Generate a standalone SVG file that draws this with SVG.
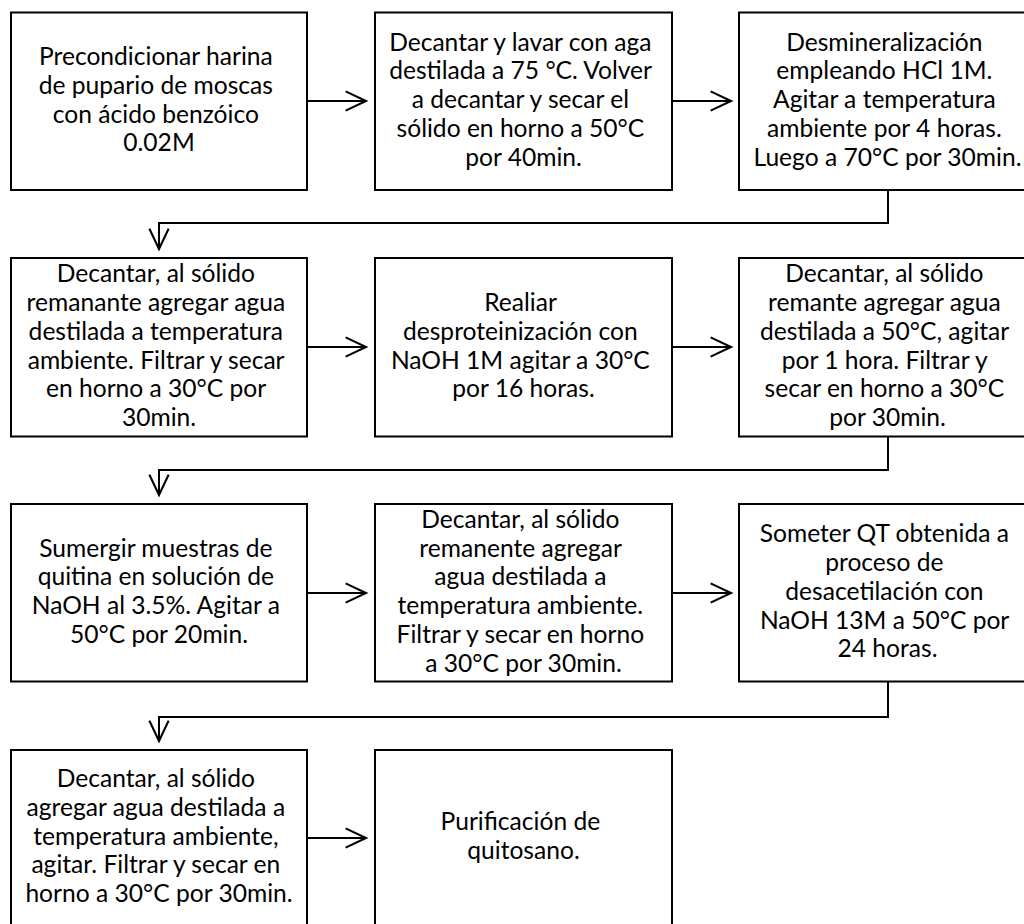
<svg xmlns="http://www.w3.org/2000/svg" width="1024" height="924" viewBox="0 0 1024 924">
  <style>
    .box { fill: #ffffff; stroke: #000000; stroke-width: 2; }
    .lbl { font-family: Lato, "Open Sans", "Liberation Sans", sans-serif; font-size: 24.6px; fill: #000000; text-anchor: middle; }
    .wire { fill: none; stroke: #000000; stroke-width: 2; }
  </style>
  <defs>
    <marker id="vhead" markerUnits="userSpaceOnUse" markerWidth="30" markerHeight="30" viewBox="-24 -12 28 24" refX="0" refY="0" orient="auto">
      <path d="M-19,-9 L0,0 L-19,9" fill="none" stroke="#000000" stroke-width="2"/>
    </marker>
  </defs>
  <rect width="1024" height="924" fill="#ffffff"/>

  <!-- connectors -->
  <g id="connectors">
    <path class="wire" marker-end="url(#vhead)" d="M307,101 H366"/>
    <path class="wire" marker-end="url(#vhead)" d="M672,101 H731"/>
    <path class="wire" marker-end="url(#vhead)" d="M888,190 V223 H159 V249"/>
    <path class="wire" marker-end="url(#vhead)" d="M307,347 H366"/>
    <path class="wire" marker-end="url(#vhead)" d="M672,347 H731"/>
    <path class="wire" marker-end="url(#vhead)" d="M888,436.5 V470 H159 V495"/>
    <path class="wire" marker-end="url(#vhead)" d="M307,593 H366"/>
    <path class="wire" marker-end="url(#vhead)" d="M672,593 H731"/>
    <path class="wire" marker-end="url(#vhead)" d="M888,681.5 V717 H159 V741"/>
    <path class="wire" marker-end="url(#vhead)" d="M307,838 H366"/>
  </g>

  <!-- row 1 -->
  <g id="step1">
    <rect class="box" x="11" y="12.5" width="296" height="177.5"/>
    <text class="lbl" y="65.05">
      <tspan x="159">Precondicionar harina</tspan>
      <tspan x="159" dy="28.8">de pupario de moscas</tspan>
      <tspan x="159" dy="28.8">con ácido benzóico</tspan>
      <tspan x="159" dy="28.8">0.02M</tspan>
    </text>
  </g>
  <g id="step2">
    <rect class="box" x="375" y="12.5" width="297" height="177.5"/>
    <text class="lbl" y="50.65">
      <tspan x="523.5">Decantar y lavar con aga</tspan>
      <tspan x="523.5" dy="28.8">destilada a 75 °C. Volver</tspan>
      <tspan x="523.5" dy="28.8">a decantar y secar el</tspan>
      <tspan x="523.5" dy="28.8">sólido en horno a 50°C</tspan>
      <tspan x="523.5" dy="28.8">por 40min.</tspan>
    </text>
  </g>
  <g id="step3">
    <rect class="box" x="739" y="12.5" width="297" height="177.5"/>
    <text class="lbl" y="50.65">
      <tspan x="887.5">Desmineralización</tspan>
      <tspan x="887.5" dy="28.8">empleando HCl 1M.</tspan>
      <tspan x="887.5" dy="28.8">Agitar a temperatura</tspan>
      <tspan x="887.5" dy="28.8">ambiente por 4 horas.</tspan>
      <tspan x="887.5" dy="28.8">Luego a 70°C por 30min.</tspan>
    </text>
  </g>

  <!-- row 2 -->
  <g id="step4">
    <rect class="box" x="11" y="258" width="296" height="178.5"/>
    <text class="lbl" y="282.25">
      <tspan x="159">Decantar, al sólido</tspan>
      <tspan x="159" dy="28.8">remanante agregar agua</tspan>
      <tspan x="159" dy="28.8">destilada a temperatura</tspan>
      <tspan x="159" dy="28.8">ambiente. Filtrar y secar</tspan>
      <tspan x="159" dy="28.8">en horno a 30°C por</tspan>
      <tspan x="159" dy="28.8">30min.</tspan>
    </text>
  </g>
  <g id="step5">
    <rect class="box" x="375" y="258" width="297" height="178.5"/>
    <text class="lbl" y="311.05">
      <tspan x="523.5">Realiar</tspan>
      <tspan x="523.5" dy="28.8">desproteinización con</tspan>
      <tspan x="523.5" dy="28.8">NaOH 1M agitar a 30°C</tspan>
      <tspan x="523.5" dy="28.8">por 16 horas.</tspan>
    </text>
  </g>
  <g id="step6">
    <rect class="box" x="739" y="258" width="297" height="178.5"/>
    <text class="lbl" y="282.25">
      <tspan x="887.5">Decantar, al sólido</tspan>
      <tspan x="887.5" dy="28.8">remante agregar agua</tspan>
      <tspan x="887.5" dy="28.8">destilada a 50°C, agitar</tspan>
      <tspan x="887.5" dy="28.8">por 1 hora. Filtrar y</tspan>
      <tspan x="887.5" dy="28.8">secar en horno a 30°C</tspan>
      <tspan x="887.5" dy="28.8">por 30min.</tspan>
    </text>
  </g>

  <!-- row 3 -->
  <g id="step7">
    <rect class="box" x="11" y="504" width="296" height="177.5"/>
    <text class="lbl" y="556.55">
      <tspan x="159">Sumergir muestras de</tspan>
      <tspan x="159" dy="28.8">quitina en solución de</tspan>
      <tspan x="159" dy="28.8">NaOH al 3.5%. Agitar a</tspan>
      <tspan x="159" dy="28.8">50°C por 20min.</tspan>
    </text>
  </g>
  <g id="step8">
    <rect class="box" x="375" y="504" width="297" height="177.5"/>
    <text class="lbl" y="527.75">
      <tspan x="523.5">Decantar, al sólido</tspan>
      <tspan x="523.5" dy="28.8">remanente agregar</tspan>
      <tspan x="523.5" dy="28.8">agua destilada a</tspan>
      <tspan x="523.5" dy="28.8">temperatura ambiente.</tspan>
      <tspan x="523.5" dy="28.8">Filtrar y secar en horno</tspan>
      <tspan x="523.5" dy="28.8">a 30°C por 30min.</tspan>
    </text>
  </g>
  <g id="step9">
    <rect class="box" x="739" y="504" width="297" height="177.5"/>
    <text class="lbl" y="542.15">
      <tspan x="887.5">Someter QT obtenida a</tspan>
      <tspan x="887.5" dy="28.8">proceso de</tspan>
      <tspan x="887.5" dy="28.8">desacetilación con</tspan>
      <tspan x="887.5" dy="28.8">NaOH 13M a 50°C por</tspan>
      <tspan x="887.5" dy="28.8">24 horas.</tspan>
    </text>
  </g>

  <!-- row 4 -->
  <g id="step10">
    <rect class="box" x="11" y="750" width="296" height="176"/>
    <text class="lbl" y="786.9">
      <tspan x="159">Decantar, al sólido</tspan>
      <tspan x="159" dy="28.8">agregar agua destilada a</tspan>
      <tspan x="159" dy="28.8">temperatura ambiente,</tspan>
      <tspan x="159" dy="28.8">agitar. Filtrar y secar en</tspan>
      <tspan x="159" dy="28.8">horno a 30°C por 30min.</tspan>
    </text>
  </g>
  <g id="step11">
    <rect class="box" x="375" y="750" width="297" height="176"/>
    <text class="lbl" y="830.1">
      <tspan x="523.5">Purificación de</tspan>
      <tspan x="523.5" dy="28.8">quitosano.</tspan>
    </text>
  </g>
</svg>
